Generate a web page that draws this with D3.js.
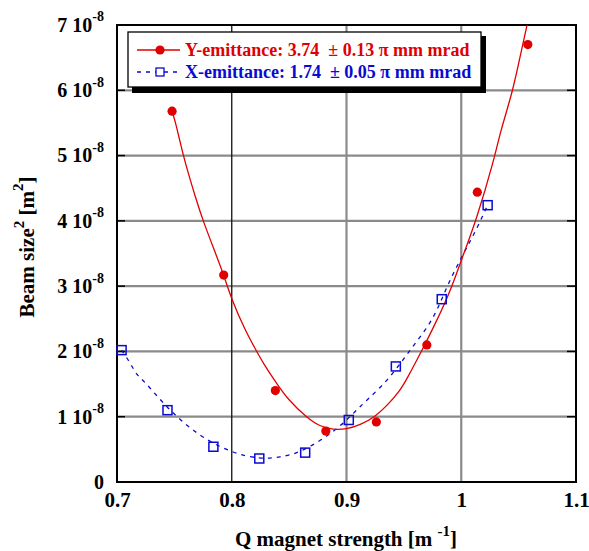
<!DOCTYPE html>
<html>
<head>
  <meta charset="UTF-8">
  <style>
    body { margin: 0; background: white; }
    svg { display: block; font-family: "Liberation Serif", "Times New Roman", serif; font-weight: bold; }
    .grid line { stroke: #8a8a8a; stroke-width: 2.2; }
  </style>
</head>
<body>
<svg></svg>
<script src="https://d3js.org/d3.v7.min.js"></script>
<script>
let width = 589, height = 551;

// measured points, beam size^2 in units of 1e-8 m^2
let yQ    = [0.748, 0.793, 0.838, 0.882, 0.926, 0.970, 1.014, 1.058];
let yBeam = [5.68, 3.17, 1.40, 0.78, 0.92, 2.10, 4.44, 6.70];
let xQ    = [0.704, 0.744, 0.784, 0.824, 0.864, 0.902, 0.943, 0.983, 1.023];
let xBeam = [2.02, 1.10, 0.54, 0.36, 0.45, 0.95, 1.77, 2.80, 4.24];

// fitted curves
let yFitQ = [0.748, 0.7505, 0.755, 0.758, 0.769, 0.775, 0.787, 0.793, 0.800, 0.8115, 0.8217, 0.8274, 0.8391,
             0.8492, 0.8652, 0.8768, 0.8884, 0.9001, 0.9117, 0.925, 0.936, 0.947, 0.952, 0.965, 0.979, 0.992,
             1.000, 1.013, 1.0293, 1.0336, 1.0452, 1.0525, 1.058];
let yFitB = [5.68, 5.54, 5.21, 4.98, 4.32, 4.00, 3.45, 3.17, 2.79, 2.33, 2.00, 1.82, 1.51,
             1.26, 0.99, 0.85, 0.80, 0.81, 0.87, 1.00, 1.18, 1.41, 1.56, 1.99, 2.48, 2.99,
             3.40, 4.00, 4.98, 5.34, 6.00, 6.62, 7.05];
let xFitQ = [0.704, 0.711, 0.717, 0.723, 0.740, 0.755, 0.775, 0.801, 0.825, 0.842, 0.859, 0.888, 0.903,
             0.918, 0.938, 0.955, 0.976, 0.987, 1.002, 1.013, 1.023];
let xFitB = [2.02, 1.84, 1.64, 1.56, 1.21, 0.95, 0.67, 0.44, 0.35, 0.38, 0.44, 0.75, 1.00,
             1.26, 1.59, 2.02, 2.48, 2.99, 3.50, 3.86, 4.24];

let xTicks = [0.7, 0.8, 0.9, 1.0, 1.1];
let xTickLabels = ["0.7", "0.8", "0.9", "1", "1.1"];
let yTicks = [0, 1, 2, 3, 4, 5, 6, 7];

let legendLabels = ["Y-emittance: 3.74  \u00b1 0.13 \u03c0 mm mrad", "X-emittance: 1.74  \u00b1 0.05 \u03c0 mm mrad"];

let red = "#e00000", blue = "#0a0ad0";
let pLeft = 117, pRight = 576, pTop = 25, pBottom = 482;

let svg = d3.select("svg").attr("width", width).attr("height", height);

let x = d3.scaleLinear().domain([0.7, 1.1]).range([pLeft, pRight]);
let y = d3.scaleLinear().domain([0, 7]).range([pBottom, pTop]);

svg.append("defs").append("clipPath").attr("id", "plot")
  .append("rect").attr("x", pLeft).attr("y", pTop).attr("width", pRight - pLeft).attr("height", pBottom - pTop);

// grid
let grid = svg.append("g").attr("class", "grid");
grid.selectAll(".gy").data(yTicks.slice(1, -1)).enter().append("line")
  .attr("x1", pLeft).attr("x2", pRight).attr("y1", d => y(d)).attr("y2", d => y(d));
grid.selectAll(".gx").data(xTicks.slice(1, -1)).enter().append("line")
  .attr("y1", pTop).attr("y2", pBottom).attr("x1", d => x(d)).attr("x2", d => x(d))
  .style("stroke", d => d == 0.8 ? "#111" : null)
  .style("stroke-width", d => d == 0.8 ? 1.3 : null);

// frame
svg.append("rect").attr("x", pLeft).attr("y", pTop).attr("width", pRight - pLeft).attr("height", pBottom - pTop)
  .attr("fill", "none").attr("stroke", "black").attr("stroke-width", 2);

// inward ticks
let ticks = svg.append("g").attr("stroke", "black").attr("stroke-width", 1.5);
yTicks.slice(1, -1).forEach(v => {
  ticks.append("line").attr("x1", pLeft).attr("x2", pLeft + 8).attr("y1", y(v)).attr("y2", y(v));
  ticks.append("line").attr("x1", pRight - 9).attr("x2", pRight).attr("y1", y(v)).attr("y2", y(v));
});

// axis labels
let yAxis = d3.axisLeft(y).tickValues(yTicks).tickSize(0).tickPadding(13).tickFormat(() => "");
let ya = svg.append("g").attr("transform", `translate(${pLeft},0)`).call(yAxis)
  .attr("font-family", null).attr("font-size", 20);
ya.select(".domain").remove();
ya.selectAll(".tick text").each(function(d) {
  let t = d3.select(this).attr("fill", "black").attr("dy", "0.32em");
  if (d == 0) { t.text("0"); return; }
  t.append("tspan").text(d + " 10");
  t.append("tspan").text("-8").attr("font-size", 14).attr("dy", "-0.75em");
});

let xAxis = d3.axisBottom(x).tickValues(xTicks).tickSize(0).tickPadding(10)
  .tickFormat((d, i) => xTickLabels[i]);
let xa = svg.append("g").attr("transform", `translate(0,${pBottom})`).call(xAxis)
  .attr("font-family", null).attr("font-size", 21);
xa.select(".domain").remove();
xa.selectAll(".tick text").attr("fill", "black");

// axis titles
let xt = svg.append("text").attr("x", 346).attr("y", 546).attr("text-anchor", "middle").attr("font-size", 21);
xt.append("tspan").text("Q magnet strength [m ");
xt.append("tspan").text("-1").attr("font-size", 15).attr("dy", "-0.7em");
xt.append("tspan").text("]").attr("dy", "0.49em");

let yt = svg.append("text").attr("transform", "translate(34,247) rotate(-90)").attr("text-anchor", "middle").attr("font-size", 21);
yt.append("tspan").text("Beam size");
yt.append("tspan").text("2").attr("font-size", 15).attr("dy", "-0.7em");
yt.append("tspan").text(" [m").attr("dy", "0.49em");
yt.append("tspan").text("2").attr("font-size", 15).attr("dy", "-0.7em");
yt.append("tspan").text("]").attr("dy", "0.49em");

// curves
let line = d3.line().x(d => x(d[0])).y(d => y(d[1])).curve(d3.curveBasis);
let plot = svg.append("g").attr("clip-path", "url(#plot)");
plot.append("path").datum(d3.zip(xFitQ, xFitB)).attr("d", line)
  .attr("fill", "none").attr("stroke", blue).attr("stroke-width", 1.3).attr("stroke-dasharray", "4,5");
plot.append("path").datum(d3.zip(yFitQ, yFitB)).attr("d", line)
  .attr("fill", "none").attr("stroke", red).attr("stroke-width", 1.3);

// markers
svg.append("g").selectAll("rect").data(d3.zip(xQ, xBeam)).enter().append("rect")
  .attr("x", d => x(d[0]) - 4.5).attr("y", d => y(d[1]) - 4.5).attr("width", 9).attr("height", 9)
  .attr("fill", "none").attr("stroke", blue).attr("stroke-width", 1.5);
svg.append("g").selectAll("circle").data(d3.zip(yQ, yBeam)).enter().append("circle")
  .attr("cx", d => x(d[0])).attr("cy", d => y(d[1])).attr("r", 4.6).attr("fill", red);

// legend
let lg = svg.append("g").attr("transform", "translate(128,32)");
lg.append("rect").attr("x", 4).attr("y", 4).attr("width", 354).attr("height", 57).attr("fill", "black");
lg.append("rect").attr("x", 0).attr("y", 0).attr("width", 353).attr("height", 55)
  .attr("fill", "white").attr("stroke", "black").attr("stroke-width", 1.3);
lg.append("line").attr("x1", 9).attr("x2", 52).attr("y1", 18).attr("y2", 18).attr("stroke", red).attr("stroke-width", 1.3);
lg.append("circle").attr("cx", 32).attr("cy", 18).attr("r", 4.6).attr("fill", red);
lg.append("line").attr("x1", 9).attr("x2", 52).attr("y1", 40).attr("y2", 40)
  .attr("stroke", blue).attr("stroke-width", 1.3).attr("stroke-dasharray", "4,5");
lg.append("rect").attr("x", 28).attr("y", 36).attr("width", 8).attr("height", 8)
  .attr("fill", "white").attr("stroke", blue).attr("stroke-width", 1.3);
lg.selectAll(".lt").data(legendLabels).enter().append("text")
  .attr("x", 57).attr("y", (d, i) => 18 + i * 22).attr("dy", "0.35em")
  .attr("font-size", 18).attr("fill", (d, i) => i == 0 ? red : blue)
  .style("white-space", "pre").text(d => d);
</script>
</body>
</html>
